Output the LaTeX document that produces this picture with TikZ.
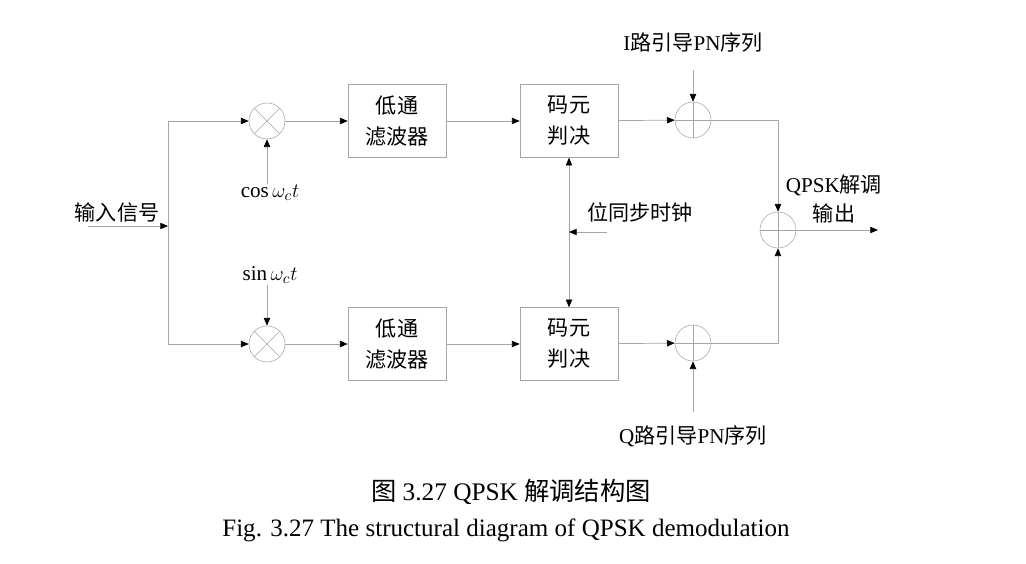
\documentclass[tikz,border=0pt]{standalone}
\usepackage{fontspec}
\setmainfont{Liberation Serif}
\newfontfamily\cjk{Noto Sans CJK SC}
\usepackage{tikz}
\usetikzlibrary{arrows.meta,positioning}

\begin{document}
\begin{tikzpicture}[
    x=0.025cm, y=-0.025cm,
    >={Triangle[length=5.5pt,width=4.5pt,color=black]},
    blk/.style={
        draw=gray!70,
        fill=white,
        minimum width=2.45cm,
        minimum height=1.82cm,
        align=center,
        font=\fontsize{15}{22}\selectfont\cjk,
        inner sep=2pt,
    },
    mixer/.style={
        circle,
        draw=gray!70,
        minimum size=0.9cm,
        inner sep=0pt,
        path picture={\draw[gray!70]
            (path picture bounding box.south west) -- (path picture bounding box.north east)
            (path picture bounding box.north west) -- (path picture bounding box.south east);},
    },
    summer/.style={
        circle,
        draw=gray!70,
        minimum size=0.9cm,
        inner sep=0pt,
        path picture={\draw[gray!70]
            (path picture bounding box.north) -- (path picture bounding box.south)
            (path picture bounding box.west) -- (path picture bounding box.east);},
    },
    lbl/.style={
        font=\fontsize{15}{20}\selectfont,
        inner sep=1pt,
        align=center,
    },
    sig/.style={
        ->,
        draw=gray!70,
        line width=0.5pt,
    },
    wire/.style={
        draw=gray!70,
        line width=0.5pt,
    },
]
\useasboundingbox (0,0) rectangle (1026,564);

% input and splitting line
\node[lbl,font=\fontsize{15}{20}\selectfont\cjk] (inlbl) at (117,212) {输入信号};
\coordinate (in) at (88,226);
\coordinate (tap) at (168,226);

% upper (I) branch
\node[mixer] (mixI) at (267,121) {};
\node[blk] (lpfI) at (397,121) {低通\\滤波器};
\node[blk] (decI) at (569,121) {码元\\判决};
\node[summer] (sumI) at (693,120) {};
\node[lbl] (cosl) at (270,193) {$\cos\omega_c t$};
\node[lbl] (pnI) at (693,42) {I{\cjk 路引导}PN{\cjk 序列}};

% lower (Q) branch
\node[mixer] (mixQ) at (267,344) {};
\node[blk] (lpfQ) at (397,344) {低通\\滤波器};
\node[blk] (decQ) at (569,344) {码元\\判决};
\node[summer] (sumQ) at (693,343) {};
\node[lbl] (sinl) at (270,275) {$\sin\omega_c t$};
\node[lbl] (pnQ) at (693,436) {Q{\cjk 路引导}PN{\cjk 序列}};

% clock and output
\node[lbl,font=\fontsize{15}{20}\selectfont\cjk] (clk) at (640,212) {位同步时钟};
\coordinate (clkin) at (607,232);
\node[summer] (sumO) at (778,230) {};
\node[lbl,anchor=center] (outl) at (834,199) {QPSK{\cjk 解调}\\{\cjk 输出}};
\coordinate (out) at (878,230);

\draw[sig] (in) -- (tap);
\draw[wire] (mixI.west -| tap) -- (mixQ.west -| tap);
\draw[sig] (mixI.west -| tap) -- (mixI);
\draw[sig] (mixQ.west -| tap) -- (mixQ);

\draw[sig] (cosl.north -| mixI) -- (mixI);
\draw[sig] (sinl.south -| mixQ) -- (mixQ);
\draw[sig] (mixI) -- (lpfI);
\draw[sig] (lpfI) -- (decI);
\draw[sig] (decI) -- (sumI);
\draw[sig] (mixQ) -- (lpfQ);
\draw[sig] (lpfQ) -- (decQ);
\draw[sig] (decQ) -- (sumQ);

\draw[sig,shorten <=0.42cm] (pnI) -- (sumI);
\draw[sig,shorten <=0.28cm] (pnQ) -- (sumQ);

\draw[sig,<->] (decI) -- (decQ);
\draw[sig] (clkin) -- (clkin -| decI);

\draw[sig] (sumI.east) -| (sumO.north);
\draw[sig] (sumQ.east) -| (sumO.south);
\draw[sig] (sumO) -- (out);

% captions
\node[font=\fontsize{18}{22}\selectfont] (cap) at (511,492) {{\cjk 图} 3.27 QPSK {\cjk 解调结构图}};
\node[font=\fontsize{17.8}{22}\selectfont] (capen) at (506,530) {Fig. 3.27 The structural diagram of QPSK demodulation};
\end{tikzpicture}
\end{document}
